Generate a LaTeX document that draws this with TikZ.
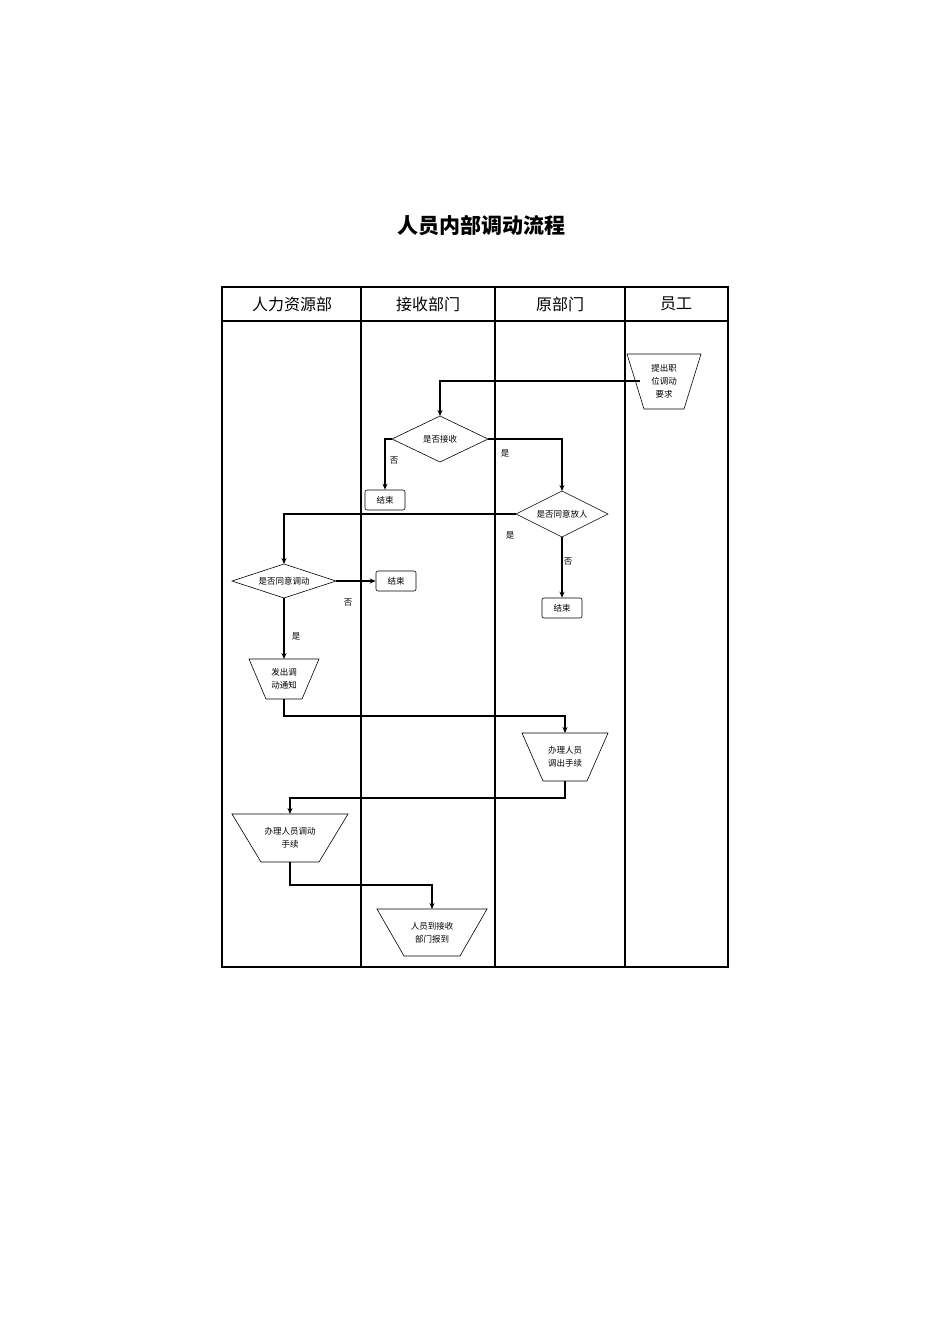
\documentclass[tikz,border=0pt]{standalone}
\usepackage{fontspec}
\setmainfont{Noto Sans CJK SC}
\usetikzlibrary{shapes.geometric,arrows.meta}
\newcommand{\trapz}[7]{%
  \draw[shp] (#2-#5,#3) -- (#2+#5,#3) -- (#2+#6,#4) -- (#2-#6,#4) -- cycle;
  \coordinate (#1-t) at (#2,#3);
  \coordinate (#1-b) at (#2,#4);
  \node[txt,align=center] (#1) at (#2,{(#3+#4)/2}) {#7};}
\begin{document}
\begin{tikzpicture}[x=1pt,y=-1pt,
  shp/.style={draw,line width=0.6pt},
  txt/.style={font=\fontsize{8.5}{13}\selectfont},
  hdr/.style={font=\fontsize{16}{18}\selectfont},
  flow/.style={draw,line width=1.4pt,-{Stealth[length=6pt,width=5pt]}},
  lbl/.style={font=\fontsize{8.5}{10}\selectfont},
  endbox/.style={shp,rounded corners=2pt,minimum width=40pt,minimum height=20pt,inner sep=0pt,txt},
  dia/.style={shp,diamond,aspect=2,inner sep=0pt,txt}]
\useasboundingbox (0,0) rectangle (950,1344);
\node[font=\fontsize{21}{24}\selectfont\bfseries] (title) at (481,226) {人员内部调动流程};
% table
\draw[line width=1.5pt] (222,287) rectangle (728,967);
\draw[line width=1.5pt] (222,321) -- (728,321);
\foreach \x in {361,495,625} \draw[line width=1.5pt] (\x,287) -- (\x,967);
\node[hdr] (h1) at (292,304) {人力资源部};
\node[hdr] (h2) at (428,304) {接收部门};
\node[hdr] (h3) at (560,304) {原部门};
\node[hdr] (h4) at (676,304) {员工};
% shapes
\trapz{req}{664}{354}{409}{37}{20}{提出职\\位调动\\要求}
\draw[shp] (392,439) -- (440,416) -- (488,439) -- (440,462) -- cycle;
\node[txt] (d1) at (440,439) {是否接收};
\coordinate (d1l) at (392,439); \coordinate (d1r) at (488,439); \coordinate (d1t) at (440,416);
\node[endbox] (e1) at (385,500) {结束};
\draw[shp] (516,514) -- (562,491) -- (608,514) -- (562,537) -- cycle;
\node[txt] (d2) at (562,514) {是否同意放人};
\coordinate (d2l) at (516,514); \coordinate (d2t) at (562,491); \coordinate (d2b) at (562,537);
\node[endbox] (e3) at (562,608) {结束};
\draw[shp] (232,581) -- (284,564) -- (336,581) -- (284,598) -- cycle;
\node[txt] (d3) at (284,581) {是否同意调动};
\coordinate (d3r) at (336,581); \coordinate (d3t) at (284,564); \coordinate (d3b) at (284,598);
\node[endbox] (e2) at (396,581) {结束};
\trapz{ntc}{284}{659}{699}{35}{18}{发出调\\动通知}
\trapz{out}{565}{733}{781}{43}{22}{办理人员\\调出手续}
\trapz{hr}{290}{814}{862}{58}{29}{办理人员调动\\手续}
\trapz{rep}{432}{909}{956}{55}{28}{人员到接收\\部门报到}
% flows
\coordinate (s0) at (640,381);
\draw[flow] (s0) -| (d1t);
\draw[flow] (d1l) -| (e1.north);
\node[lbl] (n1) at (394,461) {否};
\draw[flow] (d1r) -| (d2t);
\node[lbl] (y1) at (505,453) {是};
\draw[flow] (d2l) -| (d3t);
\node[lbl] (y2) at (510,535) {是};
\draw[flow] (d2b) -- (e3.north);
\node[lbl] (n2) at (568,562) {否};
\draw[flow] (d3r) -- (e2.west);
\node[lbl] (n3) at (348,603) {否};
\draw[flow] (d3b) -- (ntc-t);
\node[lbl] (y3) at (296,636) {是};
\draw[flow] (ntc-b) -- ++(0,17) -| (out-t);
\draw[flow] (out-b) -- ++(0,17) -| (hr-t);
\draw[flow] (hr-b) -- ++(0,23) -| (rep-t);
\end{tikzpicture}
\end{document}
